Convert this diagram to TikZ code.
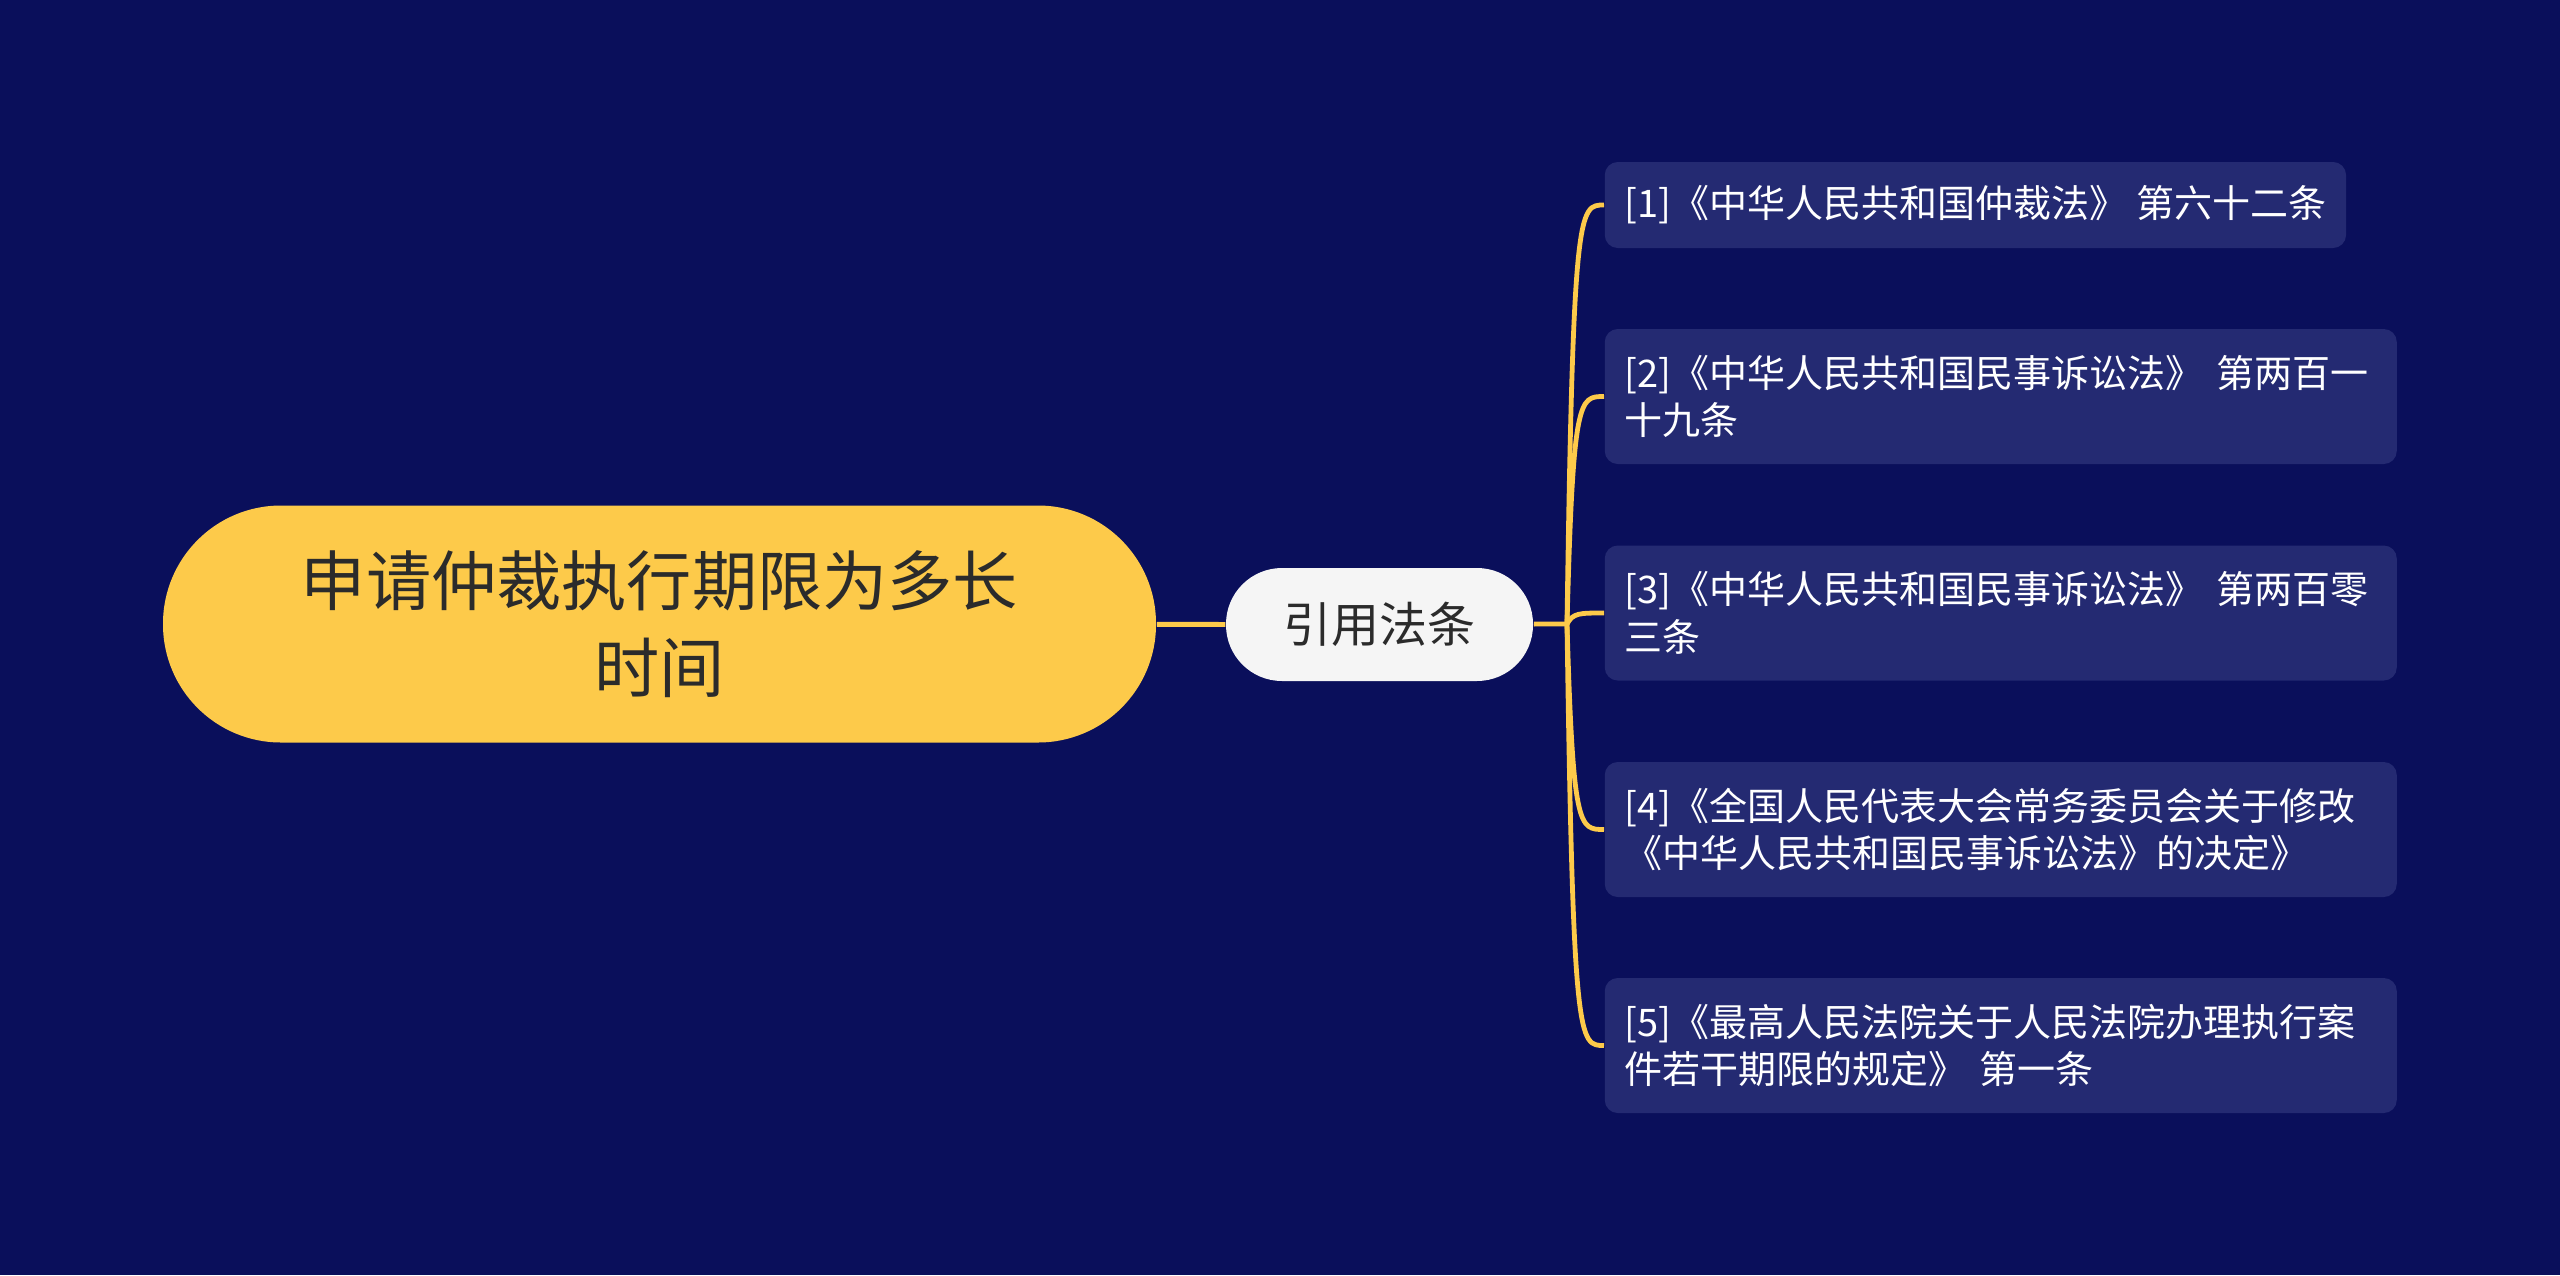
\documentclass[tikz,border=0pt]{standalone}
\usepackage{fontspec}
\newfontfamily\cjk{Noto Sans CJK SC}
\usetikzlibrary{calc}

\definecolor{bgblue}{HTML}{0A0F5B}
\definecolor{leafblue}{HTML}{242A72}
\definecolor{linkyellow}{HTML}{FDCA4A}
\definecolor{topicgrey}{HTML}{F5F5F5}
\definecolor{inkgrey}{HTML}{2B2B2B}

\tikzset{every picture/.style={line width=0.75pt}}
\tikzset{
	rootnode/.style={fill=linkyellow, text=inkgrey, rounded corners=59pt, minimum width=496.5pt, minimum height=118.5pt, align=center, font=\cjk\fontsize{32.6}{43.5}\selectfont},
	topicnode/.style={fill=topicgrey, text=inkgrey, rounded corners=28pt, minimum width=153.5pt, minimum height=56.5pt, font=\cjk\fontsize{24}{30}\selectfont},
	leafnode/.style={fill=leafblue, text=white, rounded corners=6.5pt, inner xsep=10pt, anchor=west, align=left, font=\cjk\fontsize{19}{23.7}\selectfont},
	leafone/.style={leafnode, minimum height=43pt},
	leaftwo/.style={leafnode, text width=376pt, minimum height=67.5pt},
	link/.style={draw=linkyellow, line width=2.4pt},
}

\begin{document}
\begin{tikzpicture}[x=0.5pt,y=0.5pt,yscale=-1,xscale=1]
	%Background
	\fill[bgblue] (0,0) rectangle (2560,1275);

	%Root and topic
	\node[rootnode] (root) at (659.5,624) {申请仲裁执行期限为多长\\时间};
	\node[topicnode] (cite) at (1379.5,624.5) {引用法条};

	%Leaves
	\node[leafone] (l1) at (1604,205) {[1]《中华人民共和国仲裁法》 第六十二条};
	\node[leaftwo] (l2) at (1604,396.5) {[2]《中华人民共和国民事诉讼法》 第两百一\\十九条};
	\node[leaftwo] (l3) at (1604,613) {[3]《中华人民共和国民事诉讼法》 第两百零\\三条};
	\node[leaftwo] (l4) at (1604,829.5) {[4]《全国人民代表大会常务委员会关于修改\\《中华人民共和国民事诉讼法》的决定》};
	\node[leaftwo] (l5) at (1604,1045.5) {[5]《最高人民法院关于人民法院办理执行案\\件若干期限的规定》 第一条};

	%Connectors
	\coordinate (fork) at (1567,624);
	\draw[link] (root) -- (cite);
	\draw[link] (cite) -- (fork);
	\foreach \n in {1,...,5}
		\draw[link] (fork) .. controls ($(fork |- l\n.west)+(6,0)$) and ($(fork |- l\n.west)+(12,0)$) .. (l\n.west);
\end{tikzpicture}
\end{document}
